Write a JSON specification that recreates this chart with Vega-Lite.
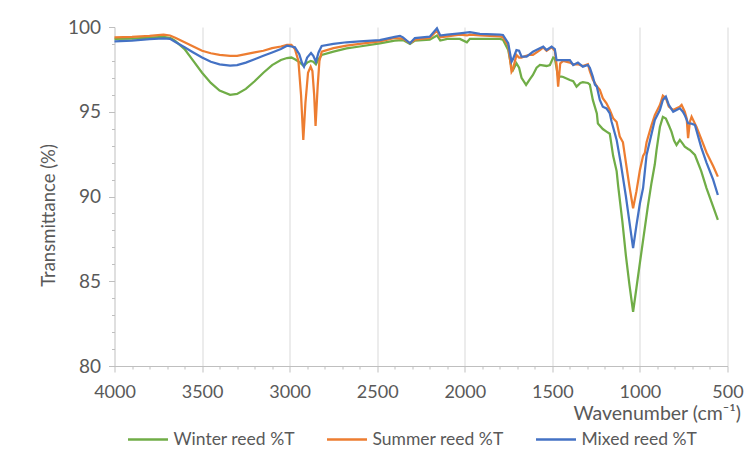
{
  "$schema": "https://vega.github.io/schema/vega-lite/v6.json",
  "width": 613,
  "height": 339,
  "autosize": {"type": "none"},
  "padding": {"left": 114.5, "top": 27, "right": 25.5, "bottom": 92},
  "background": "white",
  "config": {"view": {"stroke": null}, "font": "Lato"},
  "datasets": {
    "W": [{"wn":4000,"T":99.3},{"wn":3900,"T":99.32},{"wn":3800,"T":99.38},{"wn":3720,"T":99.42},{"wn":3680,"T":99.35},{"wn":3655,"T":99.2},{"wn":3600,"T":98.7},{"wn":3550,"T":98.0},{"wn":3500,"T":97.3},{"wn":3450,"T":96.7},{"wn":3400,"T":96.25},{"wn":3340,"T":96.0},{"wn":3300,"T":96.05},{"wn":3250,"T":96.35},{"wn":3200,"T":96.8},{"wn":3150,"T":97.3},{"wn":3100,"T":97.75},{"wn":3050,"T":98.05},{"wn":3015,"T":98.17},{"wn":2990,"T":98.2},{"wn":2970,"T":98.1},{"wn":2940,"T":97.9},{"wn":2920,"T":97.7},{"wn":2900,"T":97.9},{"wn":2880,"T":98.0},{"wn":2865,"T":97.95},{"wn":2850,"T":97.8},{"wn":2835,"T":98.1},{"wn":2817,"T":98.35},{"wn":2750,"T":98.55},{"wn":2675,"T":98.74},{"wn":2600,"T":98.85},{"wn":2485,"T":99.04},{"wn":2400,"T":99.2},{"wn":2353,"T":99.23},{"wn":2313,"T":99.0},{"wn":2285,"T":99.2},{"wn":2200,"T":99.25},{"wn":2159,"T":99.5},{"wn":2140,"T":99.2},{"wn":2100,"T":99.3},{"wn":2028,"T":99.3},{"wn":1988,"T":99.1},{"wn":1971,"T":99.3},{"wn":1914,"T":99.3},{"wn":1800,"T":99.3},{"wn":1782,"T":99.25},{"wn":1752,"T":98.64},{"wn":1733,"T":97.6},{"wn":1725,"T":97.46},{"wn":1705,"T":97.86},{"wn":1690,"T":97.6},{"wn":1676,"T":97.0},{"wn":1650,"T":96.58},{"wn":1630,"T":96.9},{"wn":1611,"T":97.17},{"wn":1590,"T":97.6},{"wn":1571,"T":97.76},{"wn":1533,"T":97.7},{"wn":1514,"T":97.76},{"wn":1495,"T":98.2},{"wn":1486,"T":98.15},{"wn":1467,"T":97.07},{"wn":1447,"T":97.07},{"wn":1438,"T":97.05},{"wn":1400,"T":96.87},{"wn":1381,"T":96.8},{"wn":1362,"T":96.48},{"wn":1340,"T":96.7},{"wn":1326,"T":96.75},{"wn":1297,"T":96.7},{"wn":1286,"T":96.6},{"wn":1269,"T":95.7},{"wn":1246,"T":94.9},{"wn":1240,"T":94.3},{"wn":1212,"T":93.98},{"wn":1191,"T":93.83},{"wn":1172,"T":93.7},{"wn":1153,"T":92.4},{"wn":1133,"T":91.5},{"wn":1124,"T":90.6},{"wn":1100,"T":88.5},{"wn":1080,"T":86.5},{"wn":1060,"T":84.8},{"wn":1039,"T":83.2},{"wn":1020,"T":84.6},{"wn":1000,"T":86.1},{"wn":970,"T":88.3},{"wn":955,"T":89.4},{"wn":934,"T":90.8},{"wn":915,"T":91.9},{"wn":905,"T":92.75},{"wn":886,"T":94.1},{"wn":869,"T":94.7},{"wn":852,"T":94.6},{"wn":835,"T":94.2},{"wn":820,"T":93.83},{"wn":805,"T":93.3},{"wn":791,"T":93.04},{"wn":772,"T":93.34},{"wn":755,"T":93.1},{"wn":744,"T":92.94},{"wn":725,"T":92.8},{"wn":715,"T":92.75},{"wn":686,"T":92.45},{"wn":650,"T":91.5},{"wn":620,"T":90.5},{"wn":582,"T":89.4},{"wn":555,"T":88.62}],
    "S": [{"wn":4000,"T":99.39},{"wn":3900,"T":99.42},{"wn":3800,"T":99.48},{"wn":3720,"T":99.55},{"wn":3683,"T":99.5},{"wn":3650,"T":99.35},{"wn":3600,"T":99.1},{"wn":3550,"T":98.85},{"wn":3500,"T":98.6},{"wn":3450,"T":98.45},{"wn":3400,"T":98.35},{"wn":3340,"T":98.29},{"wn":3300,"T":98.3},{"wn":3250,"T":98.4},{"wn":3200,"T":98.5},{"wn":3150,"T":98.6},{"wn":3100,"T":98.75},{"wn":3050,"T":98.85},{"wn":3015,"T":98.94},{"wn":2990,"T":98.95},{"wn":2970,"T":98.7},{"wn":2950,"T":98.0},{"wn":2935,"T":96.0},{"wn":2922,"T":93.34},{"wn":2910,"T":95.5},{"wn":2895,"T":97.3},{"wn":2880,"T":97.66},{"wn":2870,"T":97.4},{"wn":2860,"T":96.0},{"wn":2852,"T":94.16},{"wn":2840,"T":96.5},{"wn":2830,"T":98.0},{"wn":2817,"T":98.54},{"wn":2750,"T":98.75},{"wn":2675,"T":98.9},{"wn":2600,"T":99.0},{"wn":2485,"T":99.15},{"wn":2400,"T":99.35},{"wn":2353,"T":99.32},{"wn":2313,"T":99.05},{"wn":2285,"T":99.25},{"wn":2200,"T":99.35},{"wn":2159,"T":99.8},{"wn":2140,"T":99.4},{"wn":2100,"T":99.45},{"wn":2028,"T":99.55},{"wn":1988,"T":99.5},{"wn":1971,"T":99.55},{"wn":1914,"T":99.5},{"wn":1800,"T":99.45},{"wn":1782,"T":99.4},{"wn":1752,"T":98.9},{"wn":1733,"T":97.36},{"wn":1725,"T":97.5},{"wn":1705,"T":98.35},{"wn":1690,"T":98.2},{"wn":1676,"T":98.2},{"wn":1650,"T":98.3},{"wn":1630,"T":98.35},{"wn":1611,"T":98.35},{"wn":1571,"T":98.64},{"wn":1552,"T":98.8},{"wn":1533,"T":98.6},{"wn":1504,"T":98.8},{"wn":1486,"T":98.6},{"wn":1476,"T":97.8},{"wn":1467,"T":96.48},{"wn":1455,"T":97.86},{"wn":1438,"T":98.0},{"wn":1400,"T":97.9},{"wn":1381,"T":97.8},{"wn":1354,"T":97.8},{"wn":1326,"T":97.7},{"wn":1297,"T":97.8},{"wn":1286,"T":97.4},{"wn":1269,"T":96.9},{"wn":1246,"T":96.5},{"wn":1229,"T":96.3},{"wn":1212,"T":95.8},{"wn":1191,"T":95.5},{"wn":1172,"T":95.1},{"wn":1153,"T":94.62},{"wn":1133,"T":94.4},{"wn":1115,"T":93.53},{"wn":1097,"T":93.2},{"wn":1080,"T":92.0},{"wn":1060,"T":90.6},{"wn":1039,"T":89.31},{"wn":1020,"T":90.3},{"wn":1000,"T":91.57},{"wn":982,"T":92.4},{"wn":972,"T":92.57},{"wn":962,"T":93.2},{"wn":934,"T":94.2},{"wn":915,"T":94.8},{"wn":886,"T":95.4},{"wn":869,"T":95.95},{"wn":852,"T":95.8},{"wn":835,"T":95.3},{"wn":810,"T":95.1},{"wn":791,"T":95.2},{"wn":772,"T":95.3},{"wn":762,"T":95.4},{"wn":744,"T":95.0},{"wn":733,"T":94.6},{"wn":725,"T":93.44},{"wn":715,"T":94.4},{"wn":705,"T":94.71},{"wn":686,"T":94.3},{"wn":677,"T":94.1},{"wn":650,"T":93.4},{"wn":620,"T":92.6},{"wn":582,"T":91.8},{"wn":555,"T":91.17}],
    "M": [{"wn":4000,"T":99.15},{"wn":3900,"T":99.2},{"wn":3800,"T":99.28},{"wn":3720,"T":99.33},{"wn":3683,"T":99.3},{"wn":3650,"T":99.1},{"wn":3600,"T":98.8},{"wn":3550,"T":98.5},{"wn":3500,"T":98.2},{"wn":3450,"T":97.95},{"wn":3400,"T":97.8},{"wn":3340,"T":97.72},{"wn":3300,"T":97.75},{"wn":3250,"T":97.9},{"wn":3200,"T":98.1},{"wn":3150,"T":98.3},{"wn":3100,"T":98.5},{"wn":3050,"T":98.7},{"wn":3015,"T":98.9},{"wn":2990,"T":98.85},{"wn":2970,"T":98.8},{"wn":2945,"T":98.4},{"wn":2930,"T":97.9},{"wn":2918,"T":97.66},{"wn":2900,"T":98.2},{"wn":2878,"T":98.47},{"wn":2865,"T":98.3},{"wn":2850,"T":97.95},{"wn":2835,"T":98.5},{"wn":2817,"T":98.88},{"wn":2750,"T":99.0},{"wn":2675,"T":99.1},{"wn":2600,"T":99.15},{"wn":2485,"T":99.23},{"wn":2400,"T":99.42},{"wn":2370,"T":99.47},{"wn":2353,"T":99.39},{"wn":2313,"T":99.04},{"wn":2285,"T":99.35},{"wn":2200,"T":99.43},{"wn":2159,"T":99.92},{"wn":2140,"T":99.5},{"wn":2132,"T":99.5},{"wn":2100,"T":99.55},{"wn":2028,"T":99.63},{"wn":1971,"T":99.69},{"wn":1914,"T":99.6},{"wn":1800,"T":99.55},{"wn":1782,"T":99.53},{"wn":1752,"T":99.04},{"wn":1733,"T":97.95},{"wn":1725,"T":98.1},{"wn":1705,"T":98.64},{"wn":1690,"T":98.6},{"wn":1676,"T":98.25},{"wn":1647,"T":98.25},{"wn":1611,"T":98.54},{"wn":1580,"T":98.7},{"wn":1552,"T":98.84},{"wn":1533,"T":98.64},{"wn":1504,"T":98.84},{"wn":1486,"T":98.7},{"wn":1476,"T":98.05},{"wn":1447,"T":98.05},{"wn":1400,"T":98.05},{"wn":1381,"T":97.76},{"wn":1354,"T":97.9},{"wn":1326,"T":97.66},{"wn":1297,"T":97.76},{"wn":1286,"T":97.6},{"wn":1269,"T":97.07},{"wn":1257,"T":96.6},{"wn":1246,"T":96.48},{"wn":1229,"T":95.7},{"wn":1212,"T":95.3},{"wn":1191,"T":95.2},{"wn":1172,"T":94.9},{"wn":1162,"T":94.42},{"wn":1133,"T":93.34},{"wn":1110,"T":92.0},{"wn":1080,"T":90.0},{"wn":1060,"T":88.5},{"wn":1039,"T":86.95},{"wn":1020,"T":88.3},{"wn":1000,"T":89.6},{"wn":982,"T":90.5},{"wn":962,"T":92.45},{"wn":915,"T":94.52},{"wn":886,"T":95.1},{"wn":869,"T":95.7},{"wn":852,"T":95.89},{"wn":835,"T":95.4},{"wn":810,"T":95.0},{"wn":791,"T":95.1},{"wn":772,"T":95.2},{"wn":755,"T":95.0},{"wn":744,"T":94.8},{"wn":725,"T":94.32},{"wn":705,"T":94.3},{"wn":686,"T":94.22},{"wn":650,"T":92.9},{"wn":620,"T":92.0},{"wn":582,"T":91.0},{"wn":555,"T":90.09}]
  },
  "encoding": {
    "x": {
      "field": "wn", "type": "quantitative",
      "scale": {"domain": [500, 4000], "reverse": true, "nice": false, "zero": false},
      "axis": {
        "values": [4000,3900,3800,3700,3600,3500,3400,3300,3200,3100,3000,2900,2800,2700,2600,2500,2400,2300,2200,2100,2000,1900,1800,1700,1600,1500,1400,1300,1200,1100,1000,900,800,700,600,500],
        "labelExpr": "datum.value % 500 === 0 ? datum.label : ''",
        "format": "d",
        "labelOverlap": false,
        "labelFlush": false,
        "grid": true,
        "gridColor": {"condition": {"test": "datum.value % 500 === 0 && datum.value != 4000", "value": "#d9d9d9"}, "value": "transparent"},
        "gridWidth": 1,
        "tickSize": {"condition": {"test": "datum.value % 500 === 0", "value": 6}, "value": 3},
        "tickColor": "#bfbfbf",
        "domainColor": "#bfbfbf",
        "labelColor": "#595959",
        "labelFont": "Lato",
        "labelFontSize": 18,
        "labelPadding": 11,
        "title": "Wavenumber (cm⁻¹)",
        "titleFont": "Lato",
        "titleFontSize": 19.5,
        "titleFontWeight": "normal",
        "titleColor": "#595959",
        "titleAnchor": "end",
        "titleAlign": "right",
        "titleX": 626,
        "titleY": 38,
        "titleBaseline": "top"
      }
    },
    "y": {
      "field": "T", "type": "quantitative",
      "scale": {"domain": [80, 100], "nice": false, "zero": false},
      "axis": {
        "values": [80,81,82,83,84,85,86,87,88,89,90,91,92,93,94,95,96,97,98,99,100],
        "labelExpr": "datum.value % 5 === 0 ? datum.label : ''",
        "labelOverlap": false,
        "labelFlush": false,
        "grid": false,
        "tickSize": {"condition": {"test": "datum.value % 5 === 0", "value": 6}, "value": 3},
        "tickColor": "#bfbfbf",
        "domainColor": "#bfbfbf",
        "labelColor": "#595959",
        "labelFont": "Lato",
        "labelFontSize": 19,
        "labelPadding": 8,
        "title": "Transmittance (%)",
        "titleFont": "Lato",
        "titleFontSize": 18.5,
        "titleFontWeight": "normal",
        "titleColor": "#595959",
        "titleAngle": -90,
        "titleX": -66,
        "titleY": 188,
        "titleAlign": "center",
        "titleBaseline": "middle"
      }
    },
    "color": {
      "field": "s", "type": "nominal",
      "scale": {"domain": ["Winter reed %T", "Summer reed %T", "Mixed reed %T"], "range": ["#70ad47", "#ed7d31", "#4472c4"]},
      "legend": {
        "orient": "none",
        "legendX": 12,
        "legendY": 391,
        "direction": "horizontal",
        "title": null,
        "symbolType": "stroke",
        "symbolStrokeWidth": 2.5,
        "symbolSize": 1600,
        "labelFont": "Lato",
        "labelFontSize": 17.5,
        "labelColor": "#595959",
        "labelOffset": 4,
        "columnPadding": 26
      }
    }
  },
  "layer": [
    {"data": {"name": "W"}, "mark": {"type": "line", "strokeWidth": 2.25}, "encoding": {"color": {"datum": "Winter reed %T"}}},
    {"data": {"name": "S"}, "mark": {"type": "line", "strokeWidth": 2.25}, "encoding": {"color": {"datum": "Summer reed %T"}}},
    {"data": {"name": "M"}, "mark": {"type": "line", "strokeWidth": 2.25}, "encoding": {"color": {"datum": "Mixed reed %T"}}}
  ]
}
